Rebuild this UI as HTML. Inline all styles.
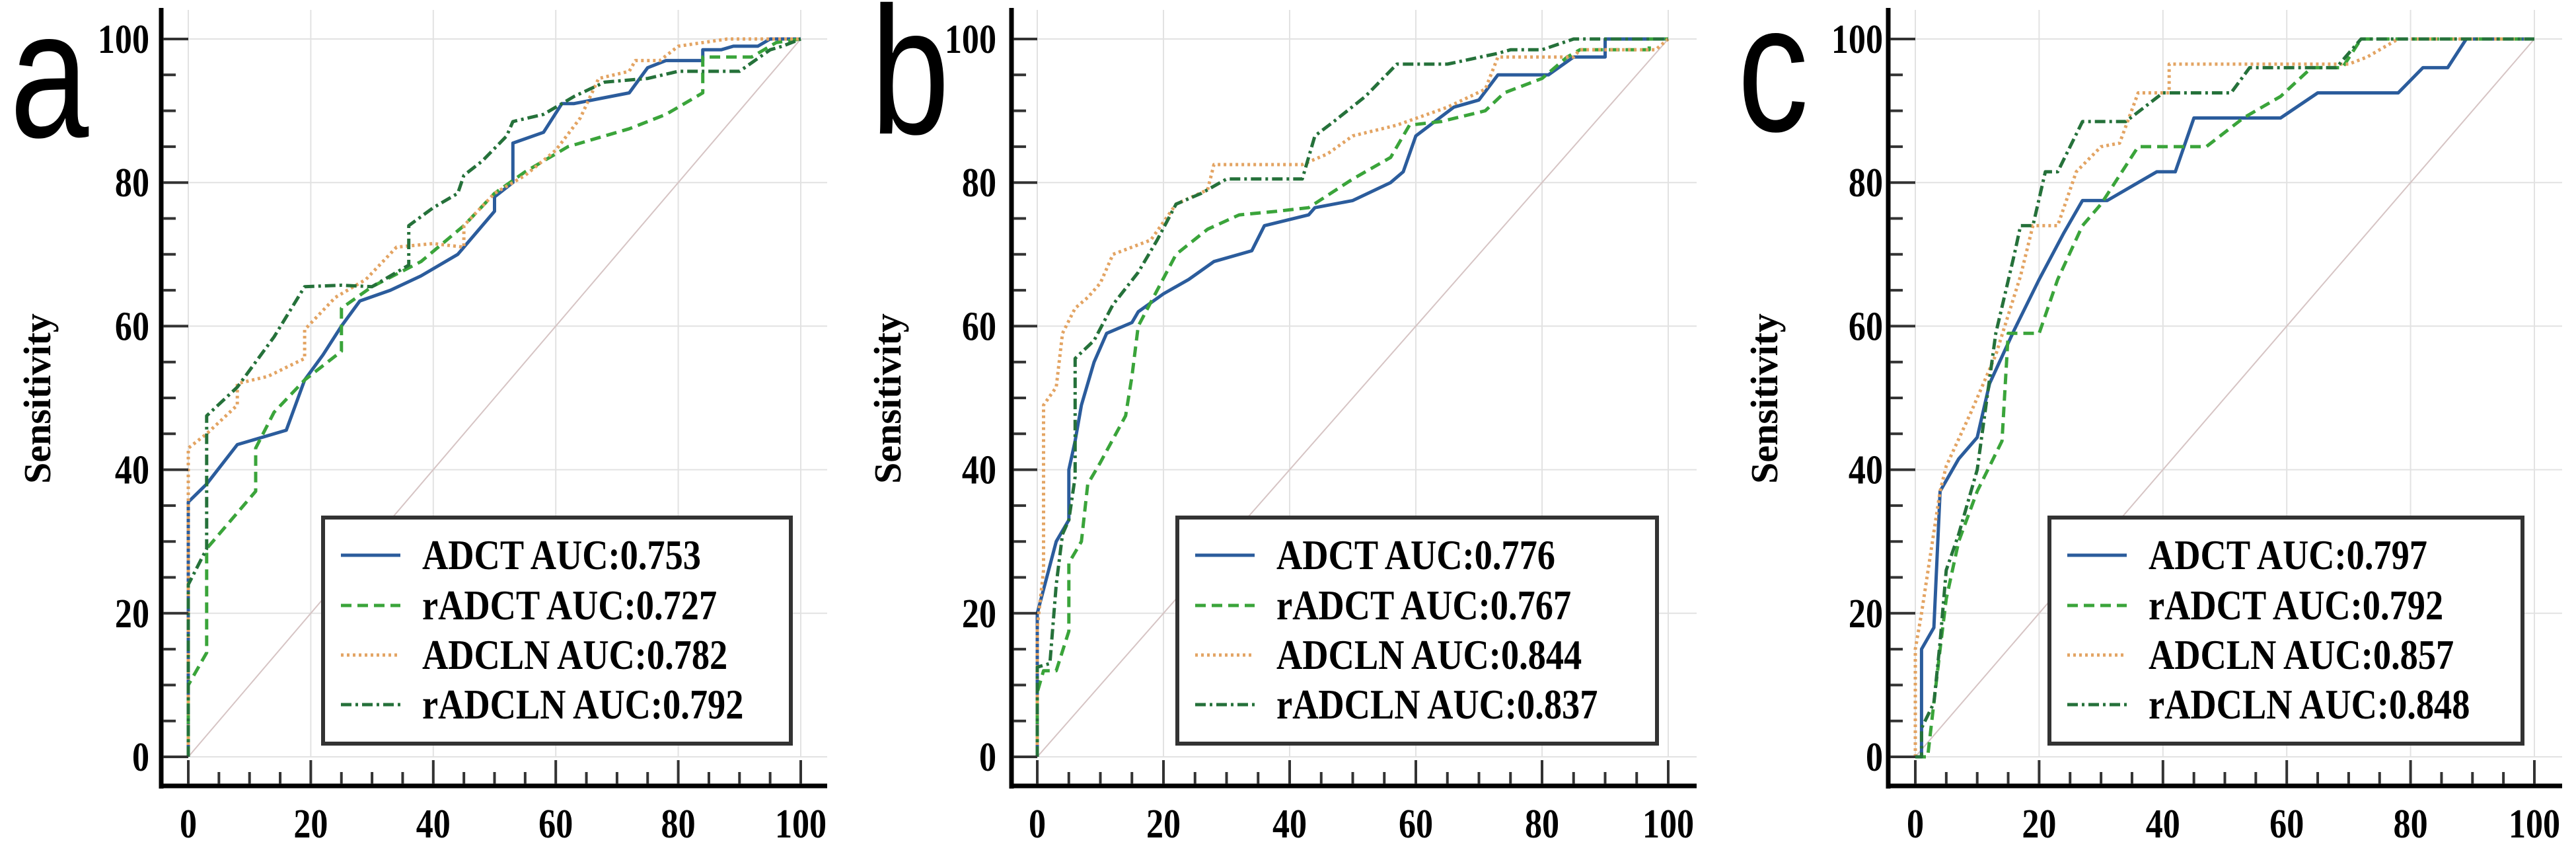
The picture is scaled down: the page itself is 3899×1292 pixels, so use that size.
<!DOCTYPE html>
<html><head><meta charset="utf-8"><style>
html,body{margin:0;padding:0;background:#fff;}
svg{display:block;}
</style></head><body>
<svg id="fig" width="3899" height="1292" viewBox="0 0 3899 1292" xmlns="http://www.w3.org/2000/svg"></svg>
<script>
// ---- data (FPR %, TPR %) ----
const ticks = [0,20,40,60,80,100];
const seriesNames = ["ADCT","rADCT","ADCLN","rADCLN"];
const aucA = ["0.753","0.727","0.782","0.792"];
const aucB = ["0.776","0.767","0.844","0.837"];
const aucC = ["0.797","0.792","0.857","0.848"];

const aADCT_x=[0,0,3,8,16,19,22,25,28,33,38,44,50,50,53,53,58,61,63,72,75,78,84,84,87,89,93,95,100];
const aADCT_y=[0,35.5,38,43.5,45.5,52.5,56,60,63.5,65,67,70,76,78,80,85.5,87,91,91,92.5,96,97,97,98.5,98.5,99,99,100,100];
const aRADCT_x=[0,0,3,3,8,11,11,14,19,25,25,30,38,45,50,55,62,72,78,84,84,92,96,100];
const aRADCT_y=[0,10,14.5,29,34,37,43,48,52.5,56.5,62.5,65.5,69,74,78.5,81.5,85,87.5,89.5,92.5,97.5,97.5,99.5,100];
const aADCLN_x=[0,0,3,8,8,13,19,19,24,29,34,40,45,45,50,55,60,64,67,72,73,77,80,88,100];
const aADCLN_y=[0,43,45,49,52,53,55.5,59.5,64,66.5,71,71.5,71,74,78.5,81,84.5,89,94.5,95.5,97,97,99,100,100];
const aRADCLN_x=[0,0,3,3,8,14,19,25,30,36,36,40,44,45,48,52,53,58,63,68,75,80,85,90,95,97,100];
const aRADCLN_y=[0,24,29,47.5,51.5,58.5,65.5,65.7,65.5,68.5,74,76.5,78.5,81,83,86.5,88.5,89.5,92,94,94.5,95.5,95.5,95.5,98.5,99,100];

const bADCT_x=[0,0,3,5,5,6,7,9,11,15,16,20,24,28,34,36,43,44,50,56,58,60,63,66,70,73,79,81,85,90,90,100];
const bADCT_y=[0,20,30,33,40,44,49,55,59,60.5,62,64.5,66.5,69,70.5,74,75.5,76.5,77.5,80,81.5,86.5,88.5,90.5,91.5,95,95,95,97.5,97.5,100,100];
const bRADCT_x=[0,0,1,3,5,5,7,8,10,14,15,16,19,22,27,32,38,43,50,56,59,64,71,74,80,84,86,97,97,100];
const bRADCT_y=[0,9,12,12,17.5,27,30,38,41,47.5,53,60,65,70,73.5,75.5,76,76.5,80.5,83.5,88,88.5,90,92.5,94.5,97.5,98.5,98.5,100,100];
const bADCLN_x=[0,0,1,1,3,4,6,8,10,12,18,22,27,28,42,46,50,57,65,71,73,85,86,98,100];
const bADCLN_y=[0,18,26,49,51.5,59,62.5,64,66,70,72,77,79,82.5,82.5,84,86.5,88,90.5,93,97.5,97.5,98.5,98.5,100];
const bRADCLN_x=[0,0,2,3,4,5,6,6,9,12,16,19,22,26,30,42,44,47,52,57,65,73,75,80,85,100];
const bRADCLN_y=[0,12.5,13,24,31,33,39,55.5,58,63,67.5,72,77,78.5,80.5,80.5,86.5,88.5,92,96.5,96.5,98,98.5,98.5,100,100];

const cADCT_x=[0,1,1,3,4,7,10,12,16,20,24,27,31,36,39,42,45,59,65,78,82,86,89,100];
const cADCT_y=[0,0,15,18,37,41.5,44.5,52,59.5,66.5,73,77.5,77.5,80,81.5,81.5,89,89,92.5,92.5,96,96,100,100];
const cRADCT_x=[0,2,3,4,5,7,10,14,15,20,23,27,30,36,47,53,59,64,69,72,100];
const cRADCT_y=[0,0,7.5,15,22,30,37,44,59,59,66.5,74,77,85,85,89,92,96,96,100,100];
const cADCLN_x=[0,0,1,4,5,9,13,17,19,23,26,30,33,36,41,41,70,73,78,100];
const cADCLN_y=[0,15,20,37,40.5,48,56,67,74,74,81.5,85,85.5,92.5,92.5,96.5,96.5,97.5,100,100];
const cRADCLN_x=[0,1,1,3,4,5,7,10,13,16,17,19,21,23,27,34,40,51,54,68,72,100];
const cRADCLN_y=[0,0,4,7.5,16,26,31,40,59,70,74,74,81.5,81.5,88.5,88.5,92.5,92.5,96,96,100,100];

// ---- drawing ----
const NS="http://www.w3.org/2000/svg";
const svg=document.getElementById('fig');
function mk(tag,attrs,parent){const e=document.createElementNS(NS,tag);for(const k in attrs)e.setAttribute(k,attrs[k]);(parent||svg).appendChild(e);return e;}
const styles=[
 {stroke:"#2b5c9c",dash:"none",w:5},
 {stroke:"#3aa43a",dash:"16,9",w:5},
 {stroke:"#e3a463",dash:"4,5",w:5},
 {stroke:"#25713a",dash:"16,6,4,6",w:5}
];
const Y0=1145,Y100=59;
function sy(v){return Y0+(Y100-Y0)*v/100;}
function panel(id,cfg,data,auc){
  const g=mk('g',{});
  
  
  const sx=v=>cfg.x0+(cfg.x100-cfg.x0)*v/100;
  for(const t of ticks){
    const gl=mk('line',{x1:sx(t),x2:sx(t),y1:15,y2:Y0,stroke:"#e2e2e2","stroke-width":2},g);
    
    
    const hl=mk('line',{x1:cfg.ax,x2:cfg.xend,y1:sy(t),y2:sy(t),stroke:"#e2e2e2","stroke-width":2},g);
    
    
  }
  const d=mk('line',{x1:sx(0),y1:sy(0),x2:sx(100),y2:sy(100),stroke:"#d6c4c4","stroke-width":2},g);
  
  
  data.forEach((s,i)=>{
    let pts=s[0].map((x,j)=>sx(x).toFixed(1)+","+sy(s[1][j]).toFixed(1)).join(" ");
    const p=mk('polyline',{points:pts,fill:"none",stroke:styles[i].stroke,"stroke-width":styles[i].w,"stroke-dasharray":styles[i].dash,"stroke-linejoin":"round"},g);
    
    
  });
  const ya=mk('line',{x1:cfg.ax,x2:cfg.ax,y1:12,y2:1193,stroke:"#000","stroke-width":7},g);
  
  
  const xa=mk('line',{x1:cfg.ax-3,x2:cfg.xend,y1:1189,y2:1189,stroke:"#000","stroke-width":7},g);
  
  
  for(let t=0;t<=100;t+=5){
    const major=t%20===0;
    const tx=mk('line',{x1:sx(t),x2:sx(t),y1:major?1150:1168,y2:1186,stroke:"#333","stroke-width":4},g);
    
    
    const ty=mk('line',{x1:cfg.ax+3,x2:major?cfg.x0:cfg.ax+22,y1:sy(t),y2:sy(t),stroke:"#333","stroke-width":4},g);
    
    
  }
  for(const t of ticks){
    const xl=mk('text',{transform:`translate(${sx(t)},1267) scale(0.84,1)`,"text-anchor":"middle","font-family":"Liberation Serif, serif","font-weight":"bold","font-size":62,fill:"#000"},g);
    xl.textContent=t;
    
    
    const yl=mk('text',{transform:`translate(${cfg.ylab},${sy(t)+21}) scale(0.84,1)`,"text-anchor":"end","font-family":"Liberation Serif, serif","font-weight":"bold","font-size":62,fill:"#000"},g);
    yl.textContent=t;
    
    
  }
  const st=mk('text',{transform:`translate(${cfg.ax-168},603) rotate(-90)`,"text-anchor":"middle","font-family":"Liberation Serif, serif","font-weight":"bold","font-size":58,fill:"#000"},g);
  st.textContent="Sensitivity";
  
  
  const L=mk('text',{transform:`translate(${cfg.lx},${cfg.ly}) scale(0.78,1)`,"font-family":"Liberation Sans, sans-serif","font-size":275,fill:"#000"},g);
  L.textContent=id;
  
  
  const lg=mk('g',{},g);
  
  
  const box=mk('rect',{x:cfg.legX,y:783,width:cfg.legW,height:342,fill:"#fff",stroke:"#333","stroke-width":6},lg);
  
  
  const rows=[840,916,991,1066];
  seriesNames.forEach((n,i)=>{
    const ln=mk('line',{x1:cfg.legX+27,x2:cfg.legX+117,y1:rows[i],y2:rows[i],stroke:styles[i].stroke,"stroke-width":5,"stroke-dasharray":styles[i].dash},lg);
    
    
    const tx=mk('text',{transform:`translate(${cfg.legX+150},${rows[i]+21}) scale(0.85,1)`,"font-family":"Liberation Serif, serif","font-weight":"bold","font-size":64,fill:"#000"},lg);
    tx.textContent=n+" AUC:"+auc[i];
    
    
  });
}
panel('a',{ax:244,x0:285,x100:1212,xend:1252,ylab:226,lx:15,ly:207,legX:489,legW:708},
  [[aADCT_x,aADCT_y],[aRADCT_x,aRADCT_y],[aADCLN_x,aADCLN_y],[aRADCLN_x,aRADCLN_y]],aucA);
panel('b',{ax:1531,x0:1570,x100:2525,xend:2568,ylab:1508,lx:1318,ly:202,legX:1782,legW:726},
  [[bADCT_x,bADCT_y],[bRADCT_x,bRADCT_y],[bADCLN_x,bADCLN_y],[bRADCLN_x,bRADCLN_y]],aucB);
panel('c',{ax:2858,x0:2899,x100:3836,xend:3878,ylab:2850,lx:2630,ly:198,legX:3102,legW:716},
  [[cADCT_x,cADCT_y],[cRADCT_x,cRADCT_y],[cADCLN_x,cADCLN_y],[cRADCLN_x,cRADCLN_y]],aucC);
</script>
</body></html>
